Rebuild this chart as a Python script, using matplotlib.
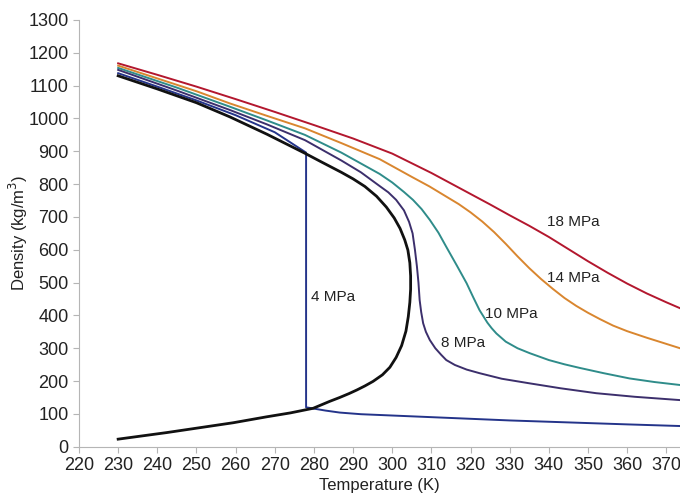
import matplotlib
matplotlib.use("Agg")
import matplotlib.pyplot as plt

plt.rcParams['font.family'] = ['Liberation Sans', 'DejaVu Sans']

# saturation dome (vapour branch -> critical point -> liquid branch)
sat_T = [230, 242.4, 250.9, 259.4, 267.9, 274, 279.8, 282, 284, 286.6, 289, 291, 293, 295.1,
         297.5, 299.4, 301, 302.4, 303.5, 304.1, 304.5, 304.7, 304.7, 304.5, 304.0,
         303.2, 302.0, 300.5, 298.5, 296.0, 293.0, 290.0, 287.0, 282.0, 277.7,
         268.0, 258.5, 250.0, 240.0, 230]
sat_rho = [23, 43, 58, 73, 91, 103, 117, 128, 138, 150, 162, 173, 185, 199,
           219, 242, 272, 308, 352, 396, 440, 480, 520, 560, 599,
           630, 665, 697, 730, 763, 793, 816, 836, 867, 894,
           952, 1005, 1048, 1090, 1130]

# 4 MPa isobar
p4_T = [230, 240, 250, 260, 270, 278, 278, 280, 283, 286.6, 292, 300, 310, 320, 330, 340,
        350, 360, 373.5]
p4_rho = [1138, 1097, 1055, 1010, 958, 896, 120, 116, 110, 104, 99, 95, 90, 85, 80, 76,
          72, 68, 63]

# 8 MPa isobar
p8_T = [230, 245, 258.5, 268, 277.7, 287, 292, 296.8, 299, 301, 303, 304.3, 305.2, 305.8,
        306.3, 306.7, 307.0, 307.4, 307.9, 308.6, 309.6, 311, 312.5, 313.8, 316, 319,
        322.3, 328, 335.1, 343, 352.1, 362, 373.5]
p8_rho = [1148, 1085, 1026, 982, 934, 872, 836, 794, 775, 752, 720, 685, 650, 600,
          550, 500, 447, 410, 376, 350, 325, 300, 280, 264, 249, 235,
          224, 207, 193, 178, 163, 152, 142]

# 10 MPa isobar
p10_T = [230, 245, 258.5, 268, 277.7, 287, 296.8, 300, 303, 305.3, 307.5, 309.6, 311.8,
         313.8, 316.5, 319.0, 320.7, 322.3, 324.3, 325.4, 326.6, 329, 332, 335.1, 340,
         344, 347.9, 354, 360.6, 367, 373.5]
p10_rho = [1154, 1094, 1036, 994, 950, 896, 831, 805, 776, 752, 724, 691, 652,
           609, 552, 498, 455, 416, 378, 361, 345, 320, 300, 285, 264,
           251, 240, 224, 208, 197, 188]

# 14 MPa isobar
p14_T = [230, 240, 250, 258.5, 268, 277.7, 287, 296.8, 305, 309.5, 313.8, 317, 320, 323,
         326, 329, 332, 335, 338, 341, 344, 347, 350, 353, 356.4, 360, 365, 369,
         373.5]
p14_rho = [1161, 1122, 1083, 1046, 1008, 970, 925, 876, 822, 793, 762, 739, 714, 686,
           654, 618, 580, 544, 511, 481, 453, 429, 408, 389, 369, 352, 332, 317,
           300]

# 18 MPa isobar
p18_T = [230, 240, 250, 260, 270, 280, 290, 300, 310, 320, 325, 330, 335, 340, 345, 350,
         355, 360, 365, 370, 373.5]
p18_rho = [1168, 1133, 1097, 1059, 1020, 980, 939, 893, 834, 770, 738, 705, 673, 639, 602,
           565, 530, 497, 467, 440, 422]

labels = ["18 MPa", "14 MPa", "10 MPa", "8 MPa", "4 MPa"]
label_T = [346.2, 346.2, 330.5, 318.0, 285.0]
label_rho = [684, 514, 404, 316, 456]

fig = plt.figure(figsize=(6.8, 4.95), dpi=100)
ax = fig.add_axes([79 / 680, (495 - 446.7) / 495, 1 - 79 / 680, (446.7 - 20) / 495])

ax.plot(p18_T, p18_rho, color='#b3172e', lw=1.4)
ax.plot(p14_T, p14_rho, color='#d9862f', lw=1.4)
ax.plot(p10_T, p10_rho, color='#2f8c8a', lw=1.4)
ax.plot(p8_T, p8_rho, color='#3c2f6c', lw=1.4)
ax.plot(p4_T, p4_rho, color='#24348a', lw=1.4)
ax.plot(sat_T, sat_rho, color='#111111', lw=2.0)

for txt, tx, ty in zip(labels, label_T, label_rho):
    ax.text(tx, ty, txt, fontsize=11, ha='center', va='center', color='#222222')

ax.set_xlim(220, 373.5)
ax.set_ylim(0, 1300)
ax.set_xticks(range(220, 371, 10))
ax.set_yticks(range(0, 1301, 100))

for side in ['top', 'right']:
    ax.spines[side].set_visible(False)
for side in ['left', 'bottom']:
    ax.spines[side].set_color('#b5b5b5')
ax.tick_params(axis='both', colors='#b5b5b5', labelcolor='#222222', labelsize=13, length=4)

ax.set_xlabel('Temperature (K)', fontsize=12, color='#222222', labelpad=3)
ax.set_ylabel('Density (kg/m$^3$)', fontsize=12, color='#222222', labelpad=-1)

fig.savefig('out.png', dpi=100)
